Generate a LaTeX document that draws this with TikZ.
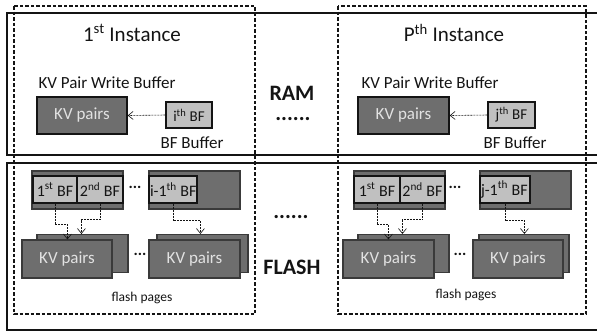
\documentclass[tikz,border=0pt]{standalone}
\usepackage{fontspec}
\setmainfont{Carlito}
\usetikzlibrary{arrows.meta,calc}
\definecolor{pagefill}{HTML}{6E6E6E}
\definecolor{pageedge}{HTML}{3A3A3A}
\definecolor{cellfill}{HTML}{C0C0C0}
\definecolor{kvtext}{HTML}{E2E2E2}
\definecolor{ink}{HTML}{141414}
\tikzset{
  region/.style={draw=ink, line width=1.4pt},
  instbox/.style={draw=ink, line width=1.3pt, dash pattern=on 3.5pt off 2pt},
  kvbox/.style={draw=ink, fill=pagefill, line width=1.3pt, inner sep=0pt,
    text=kvtext, font=\fontsize{17}{19}\selectfont},
  bfbox/.style={draw=ink, fill=cellfill, line width=1.3pt, inner sep=0pt,
    text=ink, font=\fontsize{15}{17}\selectfont},
  strip/.style={draw=pageedge, fill=pagefill, line width=1.1pt, inner sep=0pt},
  cell/.style={draw=ink, fill=cellfill, line width=1.3pt, inner sep=0pt,
    text=ink, font=\fontsize{16}{18}\selectfont},
  page/.style={draw=pageedge, fill=pagefill, line width=1.1pt, inner sep=0pt,
    minimum width=91pt, minimum height=38pt},
  pagetext/.style={text=kvtext, font=\fontsize{17}{19}\selectfont},
  label/.style={text=ink, inner sep=0pt, font=\fontsize{17}{19}\selectfont},
  title/.style={text=ink, inner sep=0pt, font=\fontsize{21}{23}\selectfont},
  memname/.style={text=ink, inner sep=0pt, font=\fontsize{22}{24}\selectfont\bfseries},
  smalllabel/.style={text=ink, inner sep=0pt, font=\fontsize{13.5}{15}\selectfont},
  gap/.style={text=ink, inner sep=0pt, font=\fontsize{16}{18}\selectfont\bfseries},
  flow/.style={draw=ink, line width=0.6pt, dash pattern=on 2pt off 1pt,
    -{Straight Barb[length=5pt,width=8pt]}},
}
\begin{document}
\begin{tikzpicture}[x=1pt,y=-1pt]
\useasboundingbox (0,0) rectangle (597,333);
\begin{scope}
\clip (0,0) rectangle (597,333);

% memory regions
\draw[region] (7,13) rectangle (610,155);
\draw[region] (7,163) rectangle (610,330);

% instance frames
\draw[instbox] (14,6) rectangle (255,314);
\draw[instbox] (338,6) rectangle (586,314);

% region names
\node[memname] (ram) at (292,93) {RAM};
\node[memname] (ramgap) at (293,119) {......};
\node[memname] (flashgap) at (291,217) {......};
\node[memname] (flash) at (292,267) {FLASH};

% ---------- first instance, RAM side ----------
\node[title] (t1) at (132,33) {1\textsuperscript{st} Instance};
\node[label] (wb1) at (107,83) {KV Pair Write Buffer};
\node[kvbox, minimum width=90pt, minimum height=37pt] (kv1) at (82,115.5) {KV pairs};
\node[bfbox, minimum width=46pt, minimum height=26pt] (bfi) at (189,115) {i\textsuperscript{th} BF};
\node[label] (bb1) at (192,143) {BF Buffer};
\draw[flow] (bfi.west) -- (kv1.east);

% ---------- P-th instance, RAM side ----------
\node[title] (tp) at (454,33) {P\textsuperscript{th} Instance};
\node[label] (wbp) at (430,83) {KV Pair Write Buffer};
\node[kvbox, minimum width=91pt, minimum height=37pt] (kv2) at (403.5,115.5) {KV pairs};
\node[bfbox, minimum width=47pt, minimum height=26pt] (bfj) at (511.5,115) {j\textsuperscript{th} BF};
\node[label] (bbp) at (515,143) {BF Buffer};
\draw[flow] (bfj.west) -- (kv2.east);

% ---------- first instance, flash side ----------
\node[strip, minimum width=91pt, minimum height=38pt] (s1a) at (77.5,190) {};
\node[cell, minimum width=44pt, minimum height=27pt] (c1a) at (55,189.5) {1\textsuperscript{st} BF};
\node[cell, minimum width=46pt, minimum height=27pt] (c1b) at (100,189.5) {2\textsuperscript{nd} BF};
\node[gap] (d1a) at (135,187) {...};
\node[strip, minimum width=91pt, minimum height=38pt] (s1b) at (194.5,190) {};
\node[cell, minimum width=48pt, minimum height=27pt] (c1c) at (173,189.5) {};
\node[cell, draw=none, fill=none, anchor=west] (c1ct) at (c1c.west) {\hspace{1pt}i-1\textsuperscript{th} BF};

\node[page] (b1a) at (82.5,253.5) {};
\node[page, minimum width=90pt] (f1a) at (67,259) {};
\node[pagetext] at (f1a) {KV pairs};
\node[page] (b1b) at (202.5,253.5) {};
\node[page] (f1b) at (194.5,259) {};
\node[pagetext] at (f1b) {KV pairs};
\node[gap] (d1b) at (140,254) {...};
\node[smalllabel] (fp1) at (142,298) {flash pages};

\draw[flow] (c1a.south) -- ++(0,21) -| ($(f1a.north west)+(46,0)$);
\draw[flow] (c1b.south) -- ++(0,16) -| ($(b1a.north west)+(45,0)$);
\draw[flow] (c1c.south) -- ++(0,17) -| ($(b1b.north west)+(44,0)$);

% ---------- P-th instance, flash side ----------
\node[strip, minimum width=91pt, minimum height=38pt] (s2a) at (399.5,190) {};
\node[cell, minimum width=46pt, minimum height=27pt] (c2a) at (377,189.5) {1\textsuperscript{st} BF};
\node[cell, minimum width=45pt, minimum height=27pt] (c2b) at (422.5,189.5) {2\textsuperscript{nd} BF};
\node[gap] (d2a) at (455,187) {...};
\node[strip, minimum width=91pt, minimum height=38pt] (s2b) at (525.5,190) {};
\node[cell, minimum width=50pt, minimum height=27pt] (c2c) at (505,189.5) {};
\node[cell, draw=none, fill=none, anchor=west] (c2ct) at (c2c.west) {\hspace{1pt}j-1\textsuperscript{th} BF};

\node[page] (b2a) at (403.5,253.5) {};
\node[page] (f2a) at (388.5,259) {};
\node[pagetext] at (f2a) {KV pairs};
\node[page, minimum width=90pt] (b2b) at (524,253.5) {};
\node[page, minimum width=90pt] (f2b) at (518,259) {};
\node[pagetext] at (f2b) {KV pairs};
\node[gap] (d2b) at (460,254) {...};
\node[smalllabel] (fp2) at (466,295) {flash pages};

\draw[flow] (c2a.south) -- ++(0,21) -| ($(f2a.north west)+(46,0)$);
\draw[flow] (c2b.south) -- ++(0,16) -| ($(b2a.north west)+(45,0)$);
\draw[flow] (c2c.south) -- ++(0,17) -| ($(b2b.north west)+(46,0)$);
\end{scope}
\end{tikzpicture}
\end{document}
